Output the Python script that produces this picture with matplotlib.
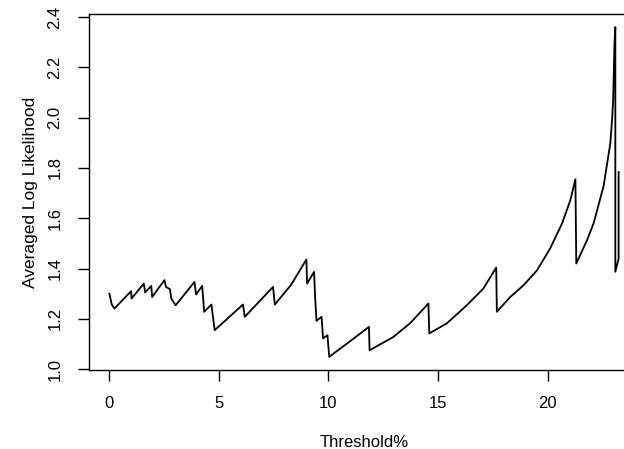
import matplotlib
matplotlib.use('Agg')
import matplotlib.pyplot as plt
import numpy as np

plt.rcParams['font.family'] = ['Liberation Sans', 'DejaVu Sans']

# threshold (%) vs averaged log likelihood, sawtooth trace
threshold = [0.02, 0.13, 0.25, 1.01, 1.03, 1.59, 1.65, 1.93, 1.97, 2.53,
             2.60, 2.78, 2.84, 3.04, 3.90, 3.97, 4.25, 4.34, 4.67, 4.82,
             6.11, 6.19, 7.48, 7.56, 8.30, 9.00, 9.03, 9.35, 9.40, 9.46,
             9.69, 9.76, 9.96, 10.04, 10.90, 11.85, 11.88, 12.96, 13.72, 14.56,
             14.60, 15.40, 16.31, 17.07, 17.65, 17.68, 18.29, 18.90, 19.51, 20.11,
             20.65, 21.03, 21.26, 21.30, 21.79, 22.09, 22.25, 22.55, 22.73, 22.85,
             22.93, 22.98, 23.04, 23.08, 23.08, 23.23, 23.23]
loglik = [1.300, 1.257, 1.241, 1.310, 1.281, 1.340, 1.305, 1.331, 1.287, 1.354,
          1.327, 1.318, 1.281, 1.254, 1.347, 1.297, 1.331, 1.228, 1.257, 1.155,
          1.257, 1.208, 1.327, 1.257, 1.335, 1.436, 1.340, 1.387, 1.281, 1.192,
          1.208, 1.122, 1.135, 1.049, 1.105, 1.168, 1.075, 1.128, 1.182, 1.261,
          1.142, 1.182, 1.254, 1.321, 1.404, 1.228, 1.287, 1.334, 1.393, 1.480,
          1.579, 1.672, 1.755, 1.420, 1.513, 1.580, 1.632, 1.730, 1.831, 1.897,
          1.990, 2.070, 2.294, 2.360, 1.387, 1.440, 1.784]

xticks = [0, 5, 10, 15, 20]
yticks = [1.0, 1.2, 1.4, 1.6, 1.8, 2.0, 2.2, 2.4]

fig = plt.figure(figsize=(6.24, 4.49), dpi=100)
ax = fig.add_axes([89 / 624, 1 - 370 / 449, 550 / 624, 356 / 449])

ax.plot(threshold, loglik, color='black', lw=1.3)

# R-style 4% padding around the data range
x = np.array(threshold)
y = np.array(loglik)
px = 0.04 * (x.max() - x.min())
py = 0.04 * (y.max() - y.min())
ax.set_xlim(x.min() - px, x.max() + px)
ax.set_ylim(y.min() - py, y.max() + py)

ax.set_xticks(xticks)
ax.set_xticklabels([str(t) for t in xticks])
ax.set_yticks(yticks)
ax.set_yticklabels(['%.1f' % t for t in yticks], rotation=90, va='center')

for s in ax.spines.values():
    s.set_linewidth(1.0)
ax.tick_params(direction='out', length=8, width=1.0, labelsize=12, pad=11)

ax.set_xlabel('Threshold%', fontsize=12, labelpad=17)
ax.set_ylabel('Averaged Log Likelihood', fontsize=12.5, labelpad=7)

fig.savefig('out.png', dpi=100)
